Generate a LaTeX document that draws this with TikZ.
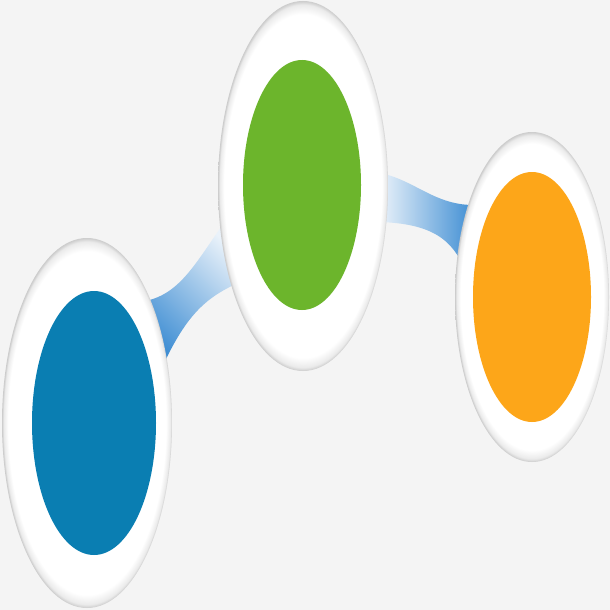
\documentclass[tikz,border=0pt]{standalone}
\usetikzlibrary{shapes.geometric}
\definecolor{bgcol}{HTML}{F4F4F4}
\definecolor{dotblue}{HTML}{0A7EB2}
\definecolor{dotgreen}{HTML}{6CB52C}
\definecolor{dotorange}{HTML}{FDA619}
\definecolor{bandblue}{HTML}{3A8BD2}
\definecolor{bandpale}{HTML}{EAF2FA}
\pgfdeclareradialshading{rimshade}{\pgfpoint{0bp}{0bp}}{color(0bp)=(white); color(23.2bp)=(white); color(24.5bp)=(black!8); color(25bp)=(black!20); color(50bp)=(black!20)}
\begin{document}
\begin{tikzpicture}[x=1pt,y=-1pt] % pixel units, y grows downwards
\tikzset{plate/.style={ellipse, inner sep=0pt, shade, shading=rimshade}} % white rings with grey rim
\tikzset{disc/.style={ellipse, inner sep=0pt, draw=none}} % coloured centres
\tikzset{band/.style={draw=none, shade}} % blue links behind the rings
\fill[bgcol] (0,0) rectangle (610,610);
\useasboundingbox (0,0) rectangle (610,610);
% link corners
\coordinate (la) at (145,301); \coordinate (lb) at (160,372);
\coordinate (lc) at (227,219); \coordinate (ld) at (238,283);
\coordinate (ra) at (380,173); \coordinate (rb) at (380,222);
\coordinate (rc) at (476,205); \coordinate (rd) at (468,276);
\path[band, left color=bandblue, right color=bandpale, shading angle=135]
  (la) .. controls (182,294) and (198,258) .. (lc) -- (ld)
  .. controls (205,298) and (185,316) .. (lb) -- cycle;
\path[band, left color=bandpale, right color=bandblue]
  (ra) .. controls (415,180) and (435,206) .. (rc) -- (rd)
  .. controls (455,245) and (440,224) .. (rb) -- cycle;
% rings and centres
\node[plate, minimum width=170pt, minimum height=370pt] (leftplate) at (87,423) {};
\node[plate, minimum width=170pt, minimum height=370pt] (midplate) at (303,186) {};
\node[plate, minimum width=154pt, minimum height=330pt] (rightplate) at (532,297) {};
\node[disc, fill=dotblue, minimum width=124pt, minimum height=264pt] (leftdisc) at (leftplate.center) [xshift=7pt] {};
\node[disc, fill=dotgreen, minimum width=118pt, minimum height=250pt] (middisc) at (302,185) {};
\node[disc, fill=dotorange, minimum width=118pt, minimum height=250pt] (rightdisc) at (rightplate.center) {};
\end{tikzpicture}
\end{document}
